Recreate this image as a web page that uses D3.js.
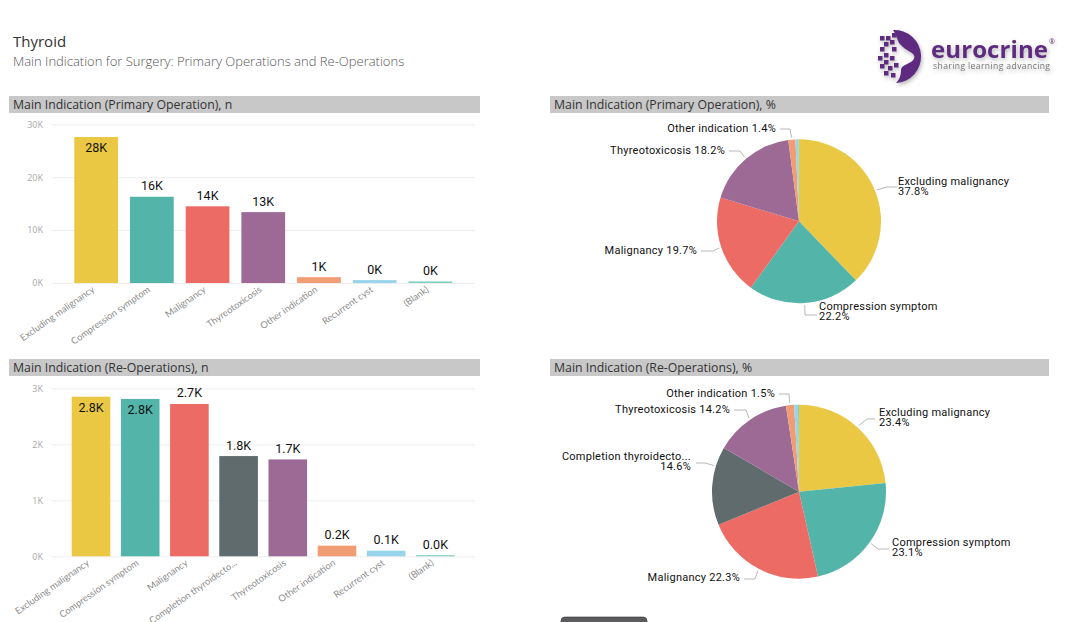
<!DOCTYPE html>
<html>
<head>
<meta charset="utf-8">
<script src="https://cdn.jsdelivr.net/npm/d3@7"></script>
<style>
  html, body { margin: 0; padding: 0; background: #fff; }
  svg { display: block; }
  text { font-family: "Open Sans", sans-serif; }
  .lbl { font-family: Roboto, sans-serif; fill: #111; }
  .cat { font-family: Lato, sans-serif; }
</style>
</head>
<body>
<svg id="chart" width="1090" height="622"></svg>
<script>
// values
const primaryCategories = ['Excluding malignancy', 'Compression symptom', 'Malignancy', 'Thyreotoxicosis', 'Other indication', 'Recurrent cyst', '(Blank)'];
const primaryCounts = [27600, 16300, 14500, 13400, 1100, 550, 300];
const primaryCountLabels = ['28K', '16K', '14K', '13K', '1K', '0K', '0K'];
const primaryTicks = [0, 10000, 20000, 30000];
const primaryPercents = [37.8, 22.2, 19.7, 18.2, 1.4, 0.6, 0.1];

const reopCategories = ['Excluding malignancy', 'Compression symptom', 'Malignancy', 'Completion thyroidecto...', 'Thyreotoxicosis', 'Other indication', 'Recurrent cyst', '(Blank)'];
const reopCounts = [2850, 2810, 2720, 1790, 1730, 190, 100, 20];
const reopCountLabels = ['2.8K', '2.8K', '2.7K', '1.8K', '1.7K', '0.2K', '0.1K', '0.0K'];
const reopTicks = [0, 1000, 2000, 3000];
const reopPercents = [23.4, 23.1, 22.3, 14.6, 14.2, 1.5, 0.7, 0.2];

const colorByCategory = {
  'Excluding malignancy': '#ebc844',
  'Compression symptom': '#53b5aa',
  'Malignancy': '#ec6c65',
  'Completion thyroidecto...': '#5f6b6d',
  'Thyreotoxicosis': '#9c6a94',
  'Other indication': '#f19c72',
  'Recurrent cyst': '#9ad4eb',
  '(Blank)': '#7fcfc0'
};

// where the pie labels sit: text anchor, text position and the leader line bend
const primaryPieLayout = [
  { i: 0, anchor: 'start', x: 898, y: 181, two: true, elbow: [887, 187], end: [897, 187] },
  { i: 1, anchor: 'start', x: 819, y: 306, two: true, elbow: [805, 315], end: [817, 315] },
  { i: 2, anchor: 'end', x: 697, y: 250, elbow: [713, 251], end: [701, 251] },
  { i: 3, anchor: 'end', x: 725, y: 150, elbow: [740, 151], end: [729, 151] },
  { i: 4, anchor: 'end', x: 776, y: 128, elbow: [790, 129], end: [780, 129] }
];
const reopPieLayout = [
  { i: 0, anchor: 'start', x: 879, y: 412, two: true, elbow: [867, 419], end: [875, 419] },
  { i: 1, anchor: 'start', x: 892, y: 542, two: true, elbow: [878, 549], end: [889, 549] },
  { i: 2, anchor: 'end', x: 740, y: 577, elbow: [755, 579], end: [744, 579] },
  { i: 3, anchor: 'end', x: 691, y: 456, two: true, at: 0.75, elbow: [705, 463], end: [696, 463] },
  { i: 4, anchor: 'end', x: 730, y: 409, elbow: [746, 410], end: [734, 410] },
  { i: 5, anchor: 'end', x: 775, y: 393, elbow: [789, 394], end: [779, 394] }
];

const svg = d3.select('#chart');

// page title
svg.append('text').attr('x', 13).attr('y', 47).attr('font-size', 15).attr('fill', '#333').text('Thyroid');
svg.append('text').attr('x', 13).attr('y', 66).attr('font-size', 13).attr('font-weight', 300).attr('fill', '#555')
  .text('Main Indication for Surgery: Primary Operations and Re-Operations');

// grey strip above each panel
function drawHeader(x, y, w, label) {
  svg.append('rect').attr('x', x).attr('y', y).attr('width', w).attr('height', 17).attr('fill', '#c8c8c8');
  svg.append('text').attr('x', x + 4).attr('y', y + 13).attr('font-size', 12.3).attr('fill', '#333').text(label);
}
drawHeader(9, 96, 471, 'Main Indication (Primary Operation), n');
drawHeader(550, 96, 499, 'Main Indication (Primary Operation), %');
drawHeader(9, 359, 471, 'Main Indication (Re-Operations), n');
drawHeader(550, 359, 499, 'Main Indication (Re-Operations), %');

function drawBars(categories, counts, labels, ticks, box) {
  let x = d3.scaleBand().domain(categories).range([box.left, box.right]).paddingInner(0.215).paddingOuter(0.1075);
  let y = d3.scaleLinear().domain([0, ticks[ticks.length - 1]]).range([box.bottom, box.top]);
  let g = svg.append('g');

  let yAxis = d3.axisLeft(y).tickValues(ticks).tickSize(-(475 - 52)).tickPadding(9).tickFormat((d) => `${d / 1000}K`);
  let yG = g.append('g').attr('transform', 'translate(52,0)').call(yAxis);
  yG.select('.domain').remove();
  yG.selectAll('line').attr('stroke', '#eeeeee');
  yG.selectAll('text').attr('font-size', 9).attr('fill', '#a8a8a8');

  let xAxis = d3.axisBottom(x).tickSize(0).tickPadding(0);
  let xG = g.append('g').attr('transform', `translate(0,${box.bottom})`).call(xAxis);
  xG.select('.domain').remove();
  xG.selectAll('text')
    .attr('class', 'cat')
    .attr('font-size', 9.4)
    .attr('fill', '#8c8c8c')
    .attr('text-anchor', 'end')
    .attr('dy', null)
    .attr('y', 0)
    .attr('transform', 'translate(-1,8) rotate(-35)');

  categories.forEach((c, i) => {
    g.append('rect')
      .attr('x', x(c))
      .attr('y', y(counts[i]))
      .attr('width', x.bandwidth())
      .attr('height', box.bottom - y(counts[i]))
      .attr('fill', colorByCategory[c]);

    // label goes inside the bar when there is no room above it
    let inside = y(counts[i]) - box.top < 13;
    g.append('text')
      .attr('class', 'lbl')
      .attr('x', x(c) + x.bandwidth() / 2)
      .attr('y', y(counts[i]) + (inside ? 11 : -11))
      .attr('text-anchor', 'middle')
      .attr('dominant-baseline', 'central')
      .attr('font-size', 12.5)
      .text(labels[i]);
  });
}

drawBars(primaryCategories, primaryCounts, primaryCountLabels, primaryTicks, { left: 68.3, right: 458.2, top: 124.3, bottom: 283 });
drawBars(reopCategories, reopCounts, reopCountLabels, reopTicks, { left: 66.4, right: 460, top: 388.3, bottom: 556.3 });

function drawPie(categories, percents, layout, cx, cy, radius) {
  let g = svg.append('g');
  let slices = d3.pie().sort(null).value((d) => d)(percents);
  let arc = d3.arc().innerRadius(0).outerRadius(radius);

  g.selectAll('path.slice').data(slices).join('path')
    .attr('class', 'slice')
    .attr('transform', `translate(${cx},${cy})`)
    .attr('d', arc)
    .attr('fill', (d, i) => colorByCategory[categories[i]]);

  layout.forEach((l) => {
    // leader starts just outside the slice, at its middle unless the layout says otherwise
    let s = slices[l.i];
    let angle = s.startAngle + (s.endAngle - s.startAngle) * (l.at === undefined ? 0.5 : l.at);
    let start = [cx + (radius + 2) * Math.sin(angle), cy - (radius + 2) * Math.cos(angle)];
    g.append('path')
      .attr('d', d3.line()([start, l.elbow, l.end]))
      .attr('fill', 'none')
      .attr('stroke', '#a6a6a6')
      .attr('stroke-width', 0.8);

    let pct = `${percents[l.i].toFixed(1)}%`;
    let lines = l.two ? [categories[l.i], pct] : [`${categories[l.i]} ${pct}`];
    lines.forEach((t, k) => {
      g.append('text')
        .attr('class', 'lbl')
        .attr('x', l.x)
        .attr('y', l.y + k * 10)
        .attr('text-anchor', l.anchor)
        .attr('dominant-baseline', 'central')
        .attr('font-size', 11)
        .attr('letter-spacing', 0.25)
        .text(t);
    });
  });
}

drawPie(primaryCategories, primaryPercents, primaryPieLayout, 799, 221.3, 82);
drawPie(reopCategories, reopPercents, reopPieLayout, 799, 491.7, 87);

// cut off button at the bottom edge
svg.append('rect').attr('x', 561).attr('y', 617).attr('width', 86).attr('height', 20).attr('rx', 4)
  .attr('fill', '#5c5c5f').attr('stroke', '#333').attr('stroke-width', 0.6);

// eurocrine logo
const logo = svg.append('g').attr('style', 'filter: drop-shadow(1px 2px 2px rgba(0,0,0,0.3))');
const purple = '#5e2b80';
logo.append('path').attr('fill', purple)
  .attr('d', 'M893 30 A26.5 26.5 0 0 1 896 83 C899 80 901 76 901 71 C901 66 904 66 909 63 C915 60 916 56 912 53 C907 50 902 47 899 43 C897 39 896 34 893 30 Z');
const pixels = [[880, 36], [886, 36], [892, 33], [884, 42], [890, 40], [880, 47], [892, 47], [878, 56], [884, 53], [890, 56], [884, 60], [880, 64], [888, 66], [894, 63], [884, 71], [891, 73]];
pixels.forEach((p) => {
  logo.append('rect').attr('x', p[0]).attr('y', p[1]).attr('width', 4.5).attr('height', 4.5).attr('fill', purple);
});
logo.append('text').attr('x', 931).attr('y', 58).attr('font-size', 24).attr('font-weight', 700).attr('fill', purple)
  .attr('textLength', 117).text('eurocrine');
logo.append('text').attr('x', 933).attr('y', 69).attr('font-size', 8.6).attr('fill', '#777')
  .attr('textLength', 117).text('sharing learning advancing');
logo.append('text').attr('x', 1049).attr('y', 44).attr('font-size', 7).attr('fill', purple).text('®');
</script>
</body>
</html>
